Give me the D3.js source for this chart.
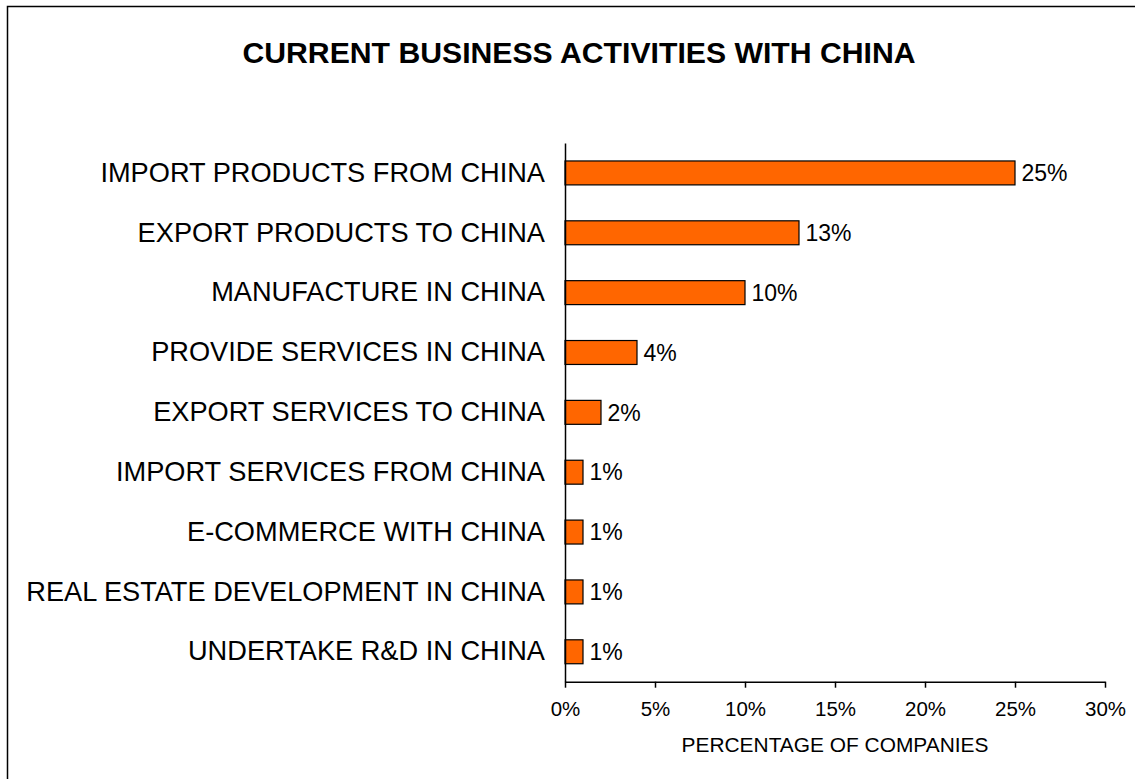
<!DOCTYPE html>
<html>
<head>
<meta charset="utf-8">
<script src="https://cdn.jsdelivr.net/npm/d3@7"></script>
<style>
  html, body { margin: 0; padding: 0; background: #fff; }
  svg { display: block; font-family: Arial, "Liberation Sans", sans-serif; }
</style>
</head>
<body>
<svg id="chart" width="1135" height="779"></svg>
<script>
// Survey results: share of companies engaged in each activity
const activities = [
  "IMPORT PRODUCTS FROM CHINA",
  "EXPORT PRODUCTS TO CHINA",
  "MANUFACTURE IN CHINA",
  "PROVIDE SERVICES IN CHINA",
  "EXPORT SERVICES TO CHINA",
  "IMPORT SERVICES FROM CHINA",
  "E-COMMERCE WITH CHINA",
  "REAL ESTATE DEVELOPMENT IN CHINA",
  "UNDERTAKE R&D IN CHINA"
];
const shares = [25, 13, 10, 4, 2, 1, 1, 1, 1];
const xTicks = [0, 5, 10, 15, 20, 25, 30];

const chartTitle = "CURRENT BUSINESS ACTIVITIES WITH CHINA";
const xTitle = "PERCENTAGE OF COMPANIES";

const svg = d3.select("#chart");

// Outer frame (runs off the right and bottom edges)
svg.append("rect")
  .attr("x", 7.5).attr("y", 6.5)
  .attr("width", 1300).attr("height", 1000)
  .attr("fill", "none")
  .attr("stroke", "#000")
  .attr("stroke-width", 1.5);

const x = d3.scaleLinear().domain([0, 30]).range([565, 1105]);
const y = d3.scaleBand()
  .domain(activities)
  .range([143, 681.7])
  .paddingInner(0.6)
  .paddingOuter(0.3);

// Title
svg.append("text")
  .attr("x", 579).attr("y", 63)
  .attr("text-anchor", "middle")
  .attr("font-size", 30.2)
  .attr("font-weight", "bold")
  .text(chartTitle);

// Bars
svg.append("g").selectAll("rect")
  .data(activities)
  .join("rect")
  .attr("x", x(0))
  .attr("y", d => y(d))
  .attr("width", (d, i) => x(shares[i]) - x(0))
  .attr("height", y.bandwidth())
  .attr("fill", "#FF6600")
  .attr("stroke", "#000")
  .attr("stroke-width", 1.2);

// Value labels
svg.append("g").selectAll("text")
  .data(activities)
  .join("text")
  .attr("x", (d, i) => x(shares[i]) + 6.5)
  .attr("y", d => y(d) + y.bandwidth() / 2)
  .attr("dy", "0.36em")
  .attr("font-size", 23)
  .attr("fill", "#000")
  .text((d, i) => shares[i] + "%");

// Category axis
const yAxis = svg.append("g")
  .attr("transform", `translate(${x(0)},0)`)
  .call(d3.axisLeft(y).tickSize(0).tickPadding(20));
yAxis.select(".domain").attr("stroke", "#000").attr("stroke-width", 1.5);
yAxis.selectAll("text")
  .attr("font-size", 27.2)
  .attr("font-family", "Arial, 'Liberation Sans', sans-serif")
  .attr("fill", "#000");

// Value axis
const xAxis = svg.append("g")
  .attr("transform", `translate(0,${y.range()[1]})`)
  .call(d3.axisBottom(x)
    .tickValues(xTicks)
    .tickFormat(d => d + "%")
    .tickSizeInner(6)
    .tickSizeOuter(0)
    .tickPadding(14));
xAxis.select(".domain").attr("stroke", "#000").attr("stroke-width", 1.5);
xAxis.selectAll(".tick line").attr("stroke", "#000").attr("stroke-width", 1.5);
xAxis.selectAll("text")
  .attr("font-size", 20.5)
  .attr("font-family", "Arial, 'Liberation Sans', sans-serif")
  .attr("fill", "#000");

// Axis title
svg.append("text")
  .attr("x", 835).attr("y", 752)
  .attr("text-anchor", "middle")
  .attr("font-size", 20.9)
  .text(xTitle);
</script>
</body>
</html>
